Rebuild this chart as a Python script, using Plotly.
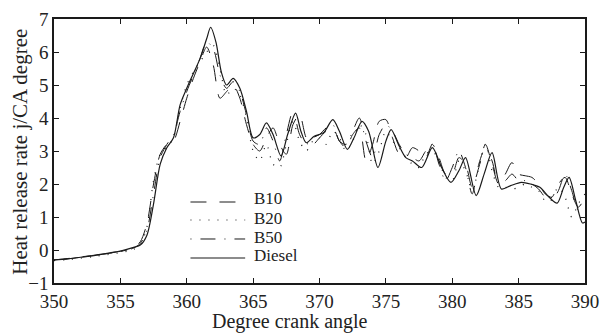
import plotly.graph_objects as go

# ---------------- data ----------------
diesel_x = [350, 351, 352, 353, 354, 355, 356, 356.5, 357, 357.5, 358, 358.5, 359, 359.5,
            360, 360.5, 361, 361.5, 361.8, 362.2, 362.6, 363, 363.5, 364, 364.5, 365,
            365.5, 366, 366.5, 367.1, 367.6, 368.2, 368.6, 369, 369.6, 370.3, 371, 371.5,
            372.1, 372.6, 373.2, 373.7, 374.4, 375, 375.4, 376, 376.5, 377, 377.7, 378.5,
            379.2, 379.9, 380.5, 381, 381.8, 382.4, 383, 383.7, 384.4, 385.2, 385.9, 386.6,
            387.3, 387.9, 388.4, 388.8, 389.3, 389.8, 390]
diesel_y = [-0.30, -0.27, -0.22, -0.17, -0.10, -0.03, 0.08, 0.15, 0.45, 1.4, 2.6, 3.1, 3.4, 4.4,
            4.9, 5.35, 5.8, 6.4, 6.75, 6.3, 5.4, 5.0, 5.2, 4.9, 4.2, 3.4,
            3.5, 3.85, 3.5, 2.85, 3.5, 4.15, 3.6, 3.25, 3.45, 3.55, 3.95, 3.6,
            3.05, 3.4, 3.9, 3.6, 2.5, 3.3, 3.65, 3.15, 2.8, 2.7, 2.5, 3.1,
            2.5, 2.05, 2.4, 2.8, 1.65, 2.3, 2.95, 1.85, 1.95, 2.05, 2.0, 1.9,
            1.6, 1.42, 1.9, 2.2, 1.5, 0.82, 0.85]

blend_x = [350, 351, 352, 353, 354, 355, 355.5, 356, 356.5, 357, 357.5, 358, 358.5, 359, 359.5,
           360, 360.5, 361, 361.5, 362, 362.5, 363, 363.5, 364, 364.5, 365, 365.5, 366,
           366.5, 367, 367.5, 368, 368.5, 369, 369.5, 370, 370.5, 371, 371.5, 372, 372.5,
           373, 373.5, 374, 374.5, 375, 375.5, 376, 376.5, 377, 377.5, 378, 378.5, 379,
           379.5, 380, 380.5, 381, 381.5, 382, 382.5, 383, 383.5, 384, 384.5, 385, 385.5,
           386, 386.5, 387, 387.5, 388, 388.5, 389, 389.5, 390]

b10_y = [-0.30, -0.26, -0.21, -0.16, -0.10, -0.04, 0.0, 0.08, 0.25, 0.8, 2.0, 2.9, 3.2, 3.3, 3.9,
         4.6, 5.2, 5.7, 6.15, 5.6, 4.6, 4.8, 5.0, 4.6, 3.8, 3.2, 3.0, 3.4,
         3.7, 3.2, 2.9, 3.8, 4.1, 3.4, 3.2, 3.4, 3.6, 3.7, 3.3, 3.1, 3.5,
         3.7, 2.7, 3.2, 3.9, 3.95, 3.4, 2.9, 2.8, 3.1, 3.0, 2.8, 3.2, 2.8,
         2.3, 2.3, 2.8, 2.6, 1.9, 2.5, 3.2, 2.6, 2.0, 2.3, 2.65, 2.3, 2.25,
         2.2, 2.0, 1.7, 1.6, 2.0, 2.2, 1.7, 1.3, 1.6]

b20_y = [-0.32, -0.29, -0.25, -0.20, -0.14, -0.08, -0.04, 0.02, 0.15, 0.7, 2.1, 2.9, 3.1, 3.4, 4.3,
         5.0, 5.4, 5.7, 6.0, 6.2, 5.5, 4.7, 4.9, 4.7, 4.0, 3.0, 2.7, 3.2,
         2.6, 2.5, 3.2, 3.9, 3.3, 3.0, 3.3, 3.4, 3.2, 3.6, 3.4, 3.0, 3.3,
         3.8, 3.5, 2.6, 3.0, 3.6, 3.3, 3.1, 2.8, 2.6, 2.5, 2.9, 3.0, 2.7,
         2.2, 2.1, 2.7, 2.4, 1.8, 2.5, 3.2, 2.4, 1.9, 1.9, 1.85, 1.9, 2.0,
         1.9, 1.8, 1.5, 1.6, 1.9, 1.6, 1.0, 1.4, 1.7]

b50_y = [-0.30, -0.27, -0.22, -0.17, -0.11, -0.05, -0.01, 0.06, 0.2, 0.6, 1.7, 2.8, 3.2, 3.5, 4.2,
         4.8, 5.3, 5.8, 6.3, 6.1, 5.3, 4.9, 5.1, 4.8, 4.1, 3.3, 3.2, 3.7,
         3.3, 2.7, 3.5, 4.2, 3.5, 3.2, 3.4, 3.5, 3.7, 3.8, 3.3, 3.2, 3.6,
         4.0, 3.3, 2.8, 3.5, 3.8, 3.6, 3.2, 2.9, 2.8, 2.7, 3.0, 3.2, 2.6,
         2.1, 2.5, 3.0, 2.5, 1.7, 2.6, 3.1, 2.7, 2.0, 2.1, 2.3, 2.1, 2.1,
         2.0, 1.85, 1.6, 1.5, 1.8, 2.3, 1.8, 1.2, 1.2]

series_names = ["B10", "B20", "B50", "Diesel"]
x_ticks = [350, 355, 360, 365, 370, 375, 380, 385, 390]
y_ticks = [-1, 0, 1, 2, 3, 4, 5, 6, 7]
x_title = "Degree crank angle"
y_title = "Heat release rate j/CA degree"

FONT = "Liberation Serif, Times New Roman, serif"
INK = "#1a1a1a"
TXT = "#222222"

styles = {
    "B10": dict(color=INK, width=1.0, dash="16px,13px"),
    "B20": dict(color=INK, width=1.2, dash="1px,8px"),
    "B50": dict(color=INK, width=1.0, dash="1px,9px,15px,9px"),
    "Diesel": dict(color=INK, width=1.2, dash="solid"),
}
series = {
    "B10": (blend_x, b10_y),
    "B20": (blend_x, b20_y),
    "B50": (blend_x, b50_y),
    "Diesel": (diesel_x, diesel_y),
}

fig = go.Figure()
for name in series_names:
    xs, ys = series[name]
    fig.add_trace(go.Scatter(x=xs, y=ys, name=name, mode="lines", showlegend=False,
                             line=dict(**styles[name], shape="spline", smoothing=0.8)))

# legend drawn in the plot area (sample line + label), rows 19 px apart
leg_x0, leg_x1, leg_tx = 0.257, 0.360, 0.372
leg_text_rows = [0.3182, 0.2462, 0.1742, 0.1023]
leg_line_rows = [0.3068, 0.2386, 0.1667, 0.0947]
for name, ty, ly in zip(series_names, leg_text_rows, leg_line_rows):
    fig.add_shape(type="line", xref="paper", yref="paper", x0=leg_x0, x1=leg_x1, y0=ly, y1=ly,
                  line=styles[name])
    fig.add_annotation(xref="paper", yref="paper", x=leg_tx, y=ty, text=name, showarrow=False,
                       xanchor="left", yanchor="middle",
                       font=dict(family=FONT, size=17, color=TXT))

axis_common = dict(showline=True, linecolor=INK, linewidth=1.5, mirror="ticks",
                   ticks="inside", ticklen=5, tickwidth=1, tickcolor=INK,
                   showgrid=False, zeroline=False, ticklabeloverflow="allow",
                   tickfont=dict(family=FONT, size=19, color=TXT))

fig.update_layout(
    width=604, height=333,
    margin=dict(l=54, r=5, t=19, b=50),
    paper_bgcolor="white", plot_bgcolor="white",
    font=dict(family=FONT, color=TXT),
    xaxis=dict(range=[350, 390], tickvals=x_ticks, **axis_common),
    yaxis=dict(range=[-1, 7], tickvals=y_ticks, **axis_common),
    showlegend=False,
)

fig.add_annotation(xref="paper", yref="paper", x=0.445, y=-0.1477, text=x_title, showarrow=False,
                   xanchor="center", yanchor="middle", font=dict(family=FONT, size=20, color=TXT))
fig.add_annotation(xref="paper", yref="paper", x=-0.0642, y=0.497, text=y_title, showarrow=False,
                   textangle=-90, xanchor="center", yanchor="middle",
                   font=dict(family=FONT, size=21, color=TXT))

fig.write_html("out.html")
